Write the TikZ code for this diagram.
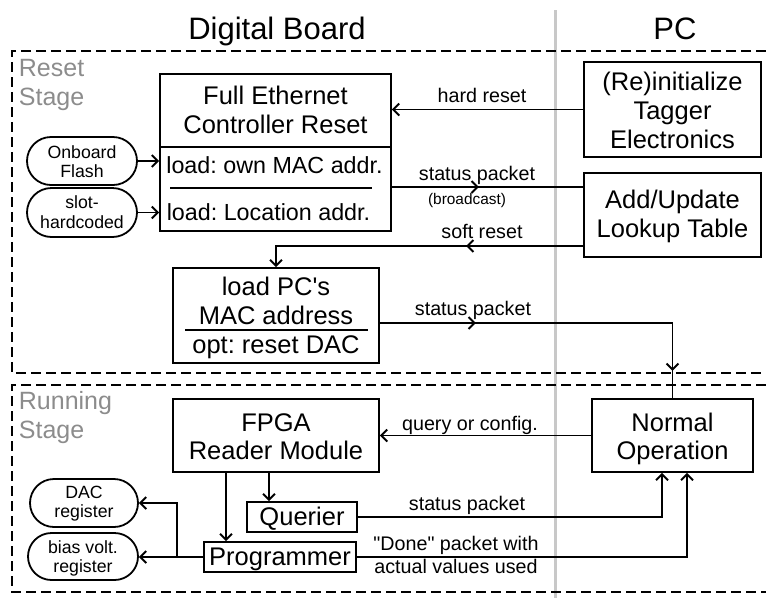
\documentclass[tikz,border=0pt]{standalone}
\usepackage{fontspec}
\setmainfont[Ligatures=TeXOff]{Liberation Sans}
\usetikzlibrary{arrows.meta,shapes.misc,decorations.markings}
\definecolor{stagegray}{RGB}{140,140,140}
\definecolor{divgray}{RGB}{200,200,200}
\frenchspacing
\tikzset{
  tip/.tip={Straight Barb[length=6pt,width=12pt,line width=1.9pt]},
  arr/.style={-tip},
  box/.style={draw, line width=1.8pt, inner sep=0pt, rectangle},
  stad/.style={draw, line width=1.8pt, inner sep=0pt, rounded rectangle},
  frame/.style={line width=1.8pt, dash pattern=on 10pt off 5pt},
  tx/.style={inner sep=0pt, anchor=base},
  big/.style={tx, font=\fontsize{25.5}{29}\selectfont},
  mid/.style={tx, font=\fontsize{23.3}{27}\selectfont},
  lab/.style={tx, font=\fontsize{19.7}{23}\selectfont},
  sml/.style={tx, font=\fontsize{15.4}{18}\selectfont},
  rnd/.style={tx, font=\fontsize{17.7}{20}\selectfont},
  ttl/.style={tx, font=\fontsize{31}{35}\selectfont},
  stg/.style={inner sep=0pt, anchor=base west, font=\fontsize{25}{29}\selectfont, text=stagegray},
  onemid/.style={postaction={decorate, decoration={markings, mark=at position #1 with {\arrow{tip}}}}},
  twomid/.style 2 args={postaction={decorate, decoration={markings, mark=at position #1 with {\arrow{tip}}, mark=at position #2 with {\arrow{tip}}}}}
}
\begin{document}
\begin{tikzpicture}[x=1pt,y=-1pt,line width=1.8pt]
\useasboundingbox (0,0) rectangle (766,598);

% divider between Digital Board and PC
\coordinate (dtop) at (555.5,10);
\coordinate (dbot) at (555.5,598);
\draw[line width=3pt, divgray] (dtop) -- (dbot);

% stage frames
\draw[frame] (766,51) -- (12,51) -- (12,373) -- (766,373);
\draw[frame] (766,385) -- (12,385) -- (12,592) -- (766,592);

% titles
\node[ttl] (tdb) at (277,39) {Digital Board};
\node[ttl] (tpc) at (675,39) {PC};
\node[stg] (rs1) at (18,76) {Reset};
\node[stg] (rs2) at (18,105) {Stage};
\node[stg] (rn1) at (18,409) {Running};
\node[stg] (rn2) at (18,438) {Stage};

% boxes
\node[box, minimum width=231pt, minimum height=157pt] (fe) at (275.5,152.5) {};
\node[box, minimum width=177pt, minimum height=95pt] (reinit) at (672.5,109.5) {};
\node[box, minimum width=177pt, minimum height=84pt] (add) at (672.5,215) {};
\node[box, minimum width=206pt, minimum height=95pt] (loadpc) at (276,315.5) {};
\node[box, minimum width=161pt, minimum height=73pt] (normal) at (672.5,435.5) {};
\node[box, minimum width=206pt, minimum height=73pt] (fpga) at (276,435.5) {};
\node[box, minimum width=110pt, minimum height=30pt] (querier) at (302,517) {};
\node[box, minimum width=152pt, minimum height=30pt] (prog) at (280,557) {};

\node[stad, minimum width=110pt, minimum height=48pt] (flash) at (82,161) {};
\node[stad, minimum width=110pt, minimum height=49pt] (slot) at (82,212.5) {};
\node[stad, minimum width=108pt, minimum height=48pt] (dac) at (84,503) {};
\node[stad, minimum width=110pt, minimum height=47pt] (bias) at (83,556.5) {};

% box texts
\node[big] (fe1) at (275.5,104) {Full Ethernet};
\node[big] (fe2) at (275.5,133) {Controller Reset};
\draw (fe.west |- 0,147) -- (fe.east |- 0,147);
\node[mid] (fe3) at (274.5,173) {load: own MAC addr.};
\draw[line width=1.2pt] (170,188) -- (372,188);
\node[mid] (fe4) at (268.5,220) {load: Location addr.};

\node[big] (ri1) at (672.5,90.5) {(Re)initialize};
\node[big] (ri2) at (672.5,119.5) {Tagger};
\node[big] (ri3) at (672.5,148.5) {Electronics};

\node[big] (ad1) at (672.5,208) {Add/Update};
\node[big] (ad2) at (672.5,237) {Lookup Table};

\node[big] (lp1) at (276,295) {load PC's};
\node[big] (lp2) at (276,324) {MAC address};
\draw[line width=1.2pt] (185,330) -- (368,330);
\node[big] (lp3) at (276,353) {opt: reset DAC};

\node[big] (no1) at (672.5,431) {Normal};
\node[big] (no2) at (672.5,459) {Operation};

\node[big] (fp1) at (276,431) {FPGA};
\node[big] (fp2) at (276,459) {Reader Module};

\node[big] (qu1) at (302,525) {Querier};
\node[big] (pr1) at (280,565) {Programmer};

\node[rnd] (fl1) at (82,158) {Onboard};
\node[rnd] (fl2) at (82,177) {Flash};
\node[rnd] (sl1) at (82,208) {slot-};
\node[rnd] (sl2) at (82,228) {hardcoded};
\node[rnd] (da1) at (84,498) {DAC};
\node[rnd] (da2) at (84,517) {register};
\node[rnd] (bi1) at (83,553) {bias volt.};
\node[rnd] (bi2) at (83,572) {register};

% connectors
\draw[arr] (reinit.west) -- (reinit.west -| fe.east);
\draw[onemid=87pt] (fe.east |- 0,187) -- (add.west |- 0,187);
\draw[arr] (flash.east) -- (flash.east -| fe.west);
\draw[arr] (slot.east) -- (slot.east -| fe.west);
\draw[arr, onemid=117pt] (add.west |- 0,246) -| (loadpc.north);
\draw[twomid={96pt}{340.5pt}] (loadpc.east |- 0,323) -| (normal.north);
\draw[arr] (normal.west) -- (normal.west -| fpga.east);
\draw[arr] (fpga.south -| 269,0) -- (querier.north -| 269,0);
\draw[arr] (fpga.south -| 226,0) -- (prog.north -| 226,0);
\draw[arr] (prog.west) -- (prog.west -| bias.east);
\coordinate (br) at (177,557);
\draw[arr] (br) |- (dac.east);
\draw[arr] (querier.east) -| (normal.south -| 662,0);
\draw[arr] (prog.east) -| (normal.south -| 687,0);

% connector labels
\node[lab] (l1) at (482,102) {hard reset};
\node[lab] (l2) at (477,180) {status packet};
\node[sml] (l3) at (467,204) {(broadcast)};
\node[lab] (l4) at (482,238) {soft reset};
\node[lab] (l5) at (473,315) {status packet};
\node[lab] (l6) at (470,430) {query or config.};
\node[lab] (l7) at (467,510) {status packet};
\node[lab] (l8) at (456,550) {"Done" packet with};
\node[lab] (l9) at (456,573) {actual values used};
\end{tikzpicture}
\end{document}
